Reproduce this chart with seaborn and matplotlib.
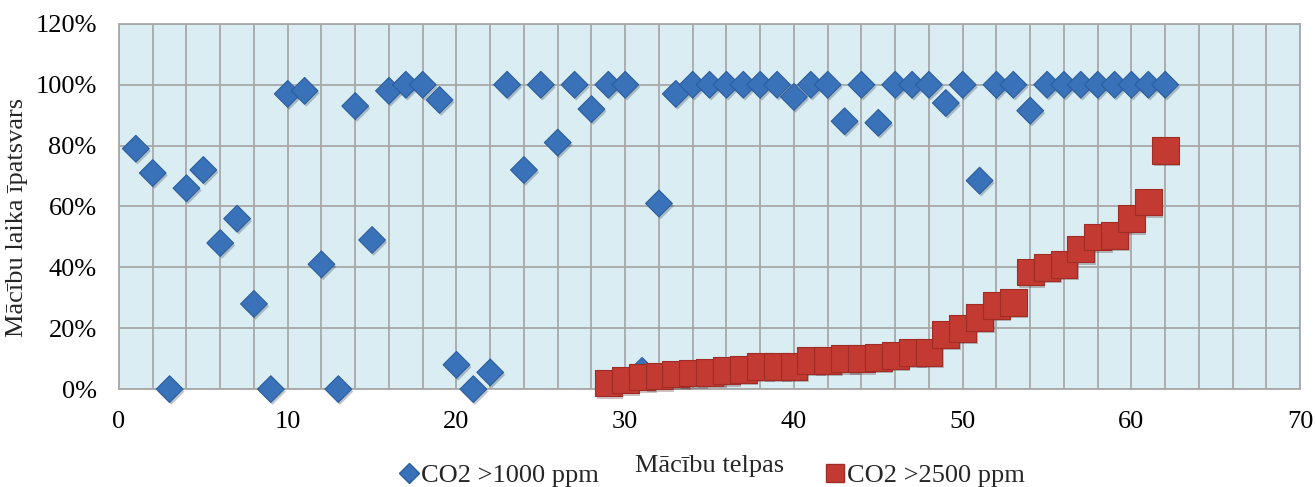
import numpy as np
import pandas as pd
import matplotlib
matplotlib.use("Agg")
import matplotlib.pyplot as plt
import matplotlib.patheffects as pe
import seaborn as sns
from matplotlib.ticker import MultipleLocator, PercentFormatter
from matplotlib.lines import Line2D

# CO2 >1000 ppm, telpas 1..62
telpas_1000 = list(range(1, 63))
dala_1000 = [0.79, 0.71, 0.00, 0.66, 0.72, 0.48, 0.56, 0.28, 0.00, 0.97,
             0.98, 0.41, 0.00, 0.93, 0.49, 0.98, 1.00, 1.00, 0.95, 0.08,
             0.00, 0.055, 1.00, 0.72, 1.00, 0.81, 1.00, 0.92, 1.00, 1.00,
             0.06, 0.61, 0.97, 1.00, 1.00, 1.00, 1.00, 1.00, 1.00, 0.96,
             1.00, 1.00, 0.88, 1.00, 0.875, 1.00, 1.00, 1.00, 0.94, 1.00,
             0.685, 1.00, 1.00, 0.915, 1.00, 1.00, 1.00, 1.00, 1.00, 1.00,
             1.00, 1.00]

# CO2 >2500 ppm, telpas 29..62
telpas_2500 = list(range(29, 63))
dala_2500 = [0.02, 0.03, 0.04, 0.043, 0.05, 0.053, 0.055, 0.06, 0.065, 0.075,
             0.075, 0.075, 0.095, 0.095, 0.10, 0.10, 0.105, 0.11, 0.12, 0.12,
             0.18, 0.20, 0.235, 0.275, 0.285, 0.385, 0.40, 0.41, 0.46, 0.50,
             0.505, 0.56, 0.615, 0.785]

df1 = pd.DataFrame({"telpa": telpas_1000, "dala": dala_1000})
df2 = pd.DataFrame({"telpa": telpas_2500, "dala": dala_2500})

sns.set_style("white")
plt.rcParams["font.family"] = ["Liberation Serif", "DejaVu Serif"]

blue = "#3A72BA"
red = "#C23A32"
grid_c = "#A8A8A8"
fs = 19

fig = plt.figure(figsize=(13.16, 4.87), dpi=100)
ax = fig.add_axes([0.0904, 0.201, 0.8976, 0.750])
ax.set_facecolor("#DAEDF3")

shadow = [pe.SimplePatchShadow(offset=(1.2, -1.8), alpha=0.25), pe.Normal()]
sns.scatterplot(data=df1, x="telpa", y="dala", marker="D", s=185, color=blue,
                edgecolor="#2C5D9C", linewidth=0.8, ax=ax, clip_on=False,
                zorder=3, path_effects=shadow)
sns.scatterplot(data=df2, x="telpa", y="dala", marker="s", s=370, color=red,
                edgecolor="#A02C26", linewidth=0.8, ax=ax, clip_on=False,
                zorder=4, path_effects=shadow)

ax.set_xlim(0, 70)
ax.set_ylim(0, 1.2)
ax.xaxis.set_major_locator(MultipleLocator(10))
ax.xaxis.set_minor_locator(MultipleLocator(2))
ax.yaxis.set_major_locator(MultipleLocator(0.2))
ax.yaxis.set_major_formatter(PercentFormatter(1.0, decimals=0))
ax.grid(True, which="both", color=grid_c, linewidth=1.3)
ax.set_axisbelow(True)
for sp in ax.spines.values():
    sp.set_color(grid_c)
    sp.set_linewidth(1.3)
ax.tick_params(axis="both", which="major", direction="out", length=5,
               color=grid_c, width=1.3, labelsize=fs, labelcolor="black")
ax.tick_params(axis="x", which="major", pad=11)
ax.tick_params(axis="y", which="major", pad=11)
ax.tick_params(axis="x", which="minor", length=0)

ax.set_xlabel("Mācību telpas", fontsize=fs)
ax.xaxis.set_label_coords(0.5, -0.181)
ax.set_ylabel("Mācību laika īpatsvars", fontsize=fs)
ax.yaxis.set_label_coords(-0.077, 0.47)

handles = [
    Line2D([], [], marker="D", linestyle="none", markersize=10, color=blue,
           markeredgecolor="#2C5D9C"),
    Line2D([], [], marker="s", linestyle="none", markersize=13, color=red,
           markeredgecolor="#A02C26"),
]
fig.legend(handles, ["CO2 >1000 ppm", "CO2 >2500 ppm"], loc="center",
           bbox_to_anchor=(712 / 1316, 0.024), ncol=2, frameon=False,
           fontsize=fs, handlelength=0.72, handletextpad=0.1,
           columnspacing=8.6, borderaxespad=0, borderpad=0)

fig.savefig("out.png", dpi=100)
